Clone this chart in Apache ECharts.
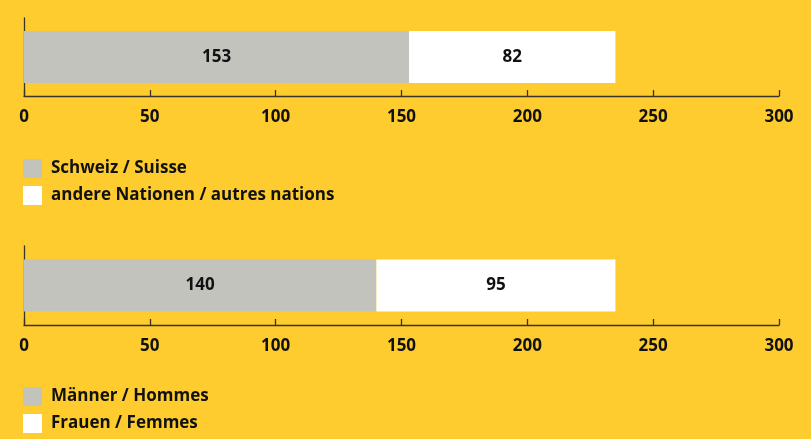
<!DOCTYPE html>
<html><head><meta charset="utf-8">
<script src="https://cdn.jsdelivr.net/npm/echarts@6/dist/echarts.min.js"></script>
<style>html,body{margin:0;padding:0;background:#FECC2E;}#c{width:811px;height:439px;}</style>
</head><body><div id="c"></div>
<script>
const xTicks = [0, 50, 100, 150, 200, 250, 300];
const chart1Names = ['Schweiz / Suisse', 'andere Nationen / autres nations'];
const chart1Values = [153, 82];
const chart2Names = ['Männer / Hommes', 'Frauen / Femmes'];
const chart2Values = [140, 95];
const colors = ['#C3C3BE', '#FFFFFF'];

const font = '"Open Sans", Lato, sans-serif';
const axisColor = '#3a3426';
function xAxis(gi){
  return {gridIndex: gi, type:'value', min: xTicks[0], max: xTicks[xTicks.length-1], interval: 50,
    axisLine:{show:true, lineStyle:{color:axisColor, width:1.3}},
    axisTick:{show:true, inside:true, length:6, lineStyle:{color:axisColor, width:1.3}},
    splitLine:{show:false},
    axisLabel:{color:'#111', fontWeight:'bold', fontSize:17, fontFamily:font, margin:13}};
}
function yAxis(gi){
  return {gridIndex: gi, type:'category', data:[''],
    axisLine:{show:true, lineStyle:{color:axisColor, width:1.3}},
    axisTick:{show:false}, axisLabel:{show:false}};
}
function bars(names, vals, gi){
  return names.map((n,i)=>({name:n, type:'bar', stack:'s'+gi, xAxisIndex:gi, yAxisIndex:gi,
    data:[vals[i]], barWidth:52, itemStyle:{color:colors[i]}, silent:true,
    label:{show:true, position:'inside', color:'#111', fontWeight:'bold', fontSize:17, fontFamily:font}}));
}
function legend(names, top){
  return {orient:'vertical', left:18, top:top, itemWidth:19, itemHeight:19, itemGap:8,
    icon:'rect', data:names.map((n,i)=>({name:n, itemStyle:{color:colors[i]}})),
    textStyle:{color:'#111', fontWeight:'bold', fontSize:17, fontFamily:font, padding:[0,0,0,4]}, selectedMode:false};
}
const chart = echarts.init(document.getElementById('c'));
chart.setOption({
  backgroundColor:'#FECC2E',
  animation:false,
  grid:[{left:24, right:32, top:18, height:78}, {left:24, right:32, top:246, height:79}],
  xAxis:[xAxis(0), xAxis(1)],
  yAxis:[yAxis(0), yAxis(1)],
  legend:[legend(chart1Names, 154), legend(chart2Names, 382)],
  series:[...bars(chart1Names, chart1Values, 0), ...bars(chart2Names, chart2Values, 1)]
});
</script></body></html>
